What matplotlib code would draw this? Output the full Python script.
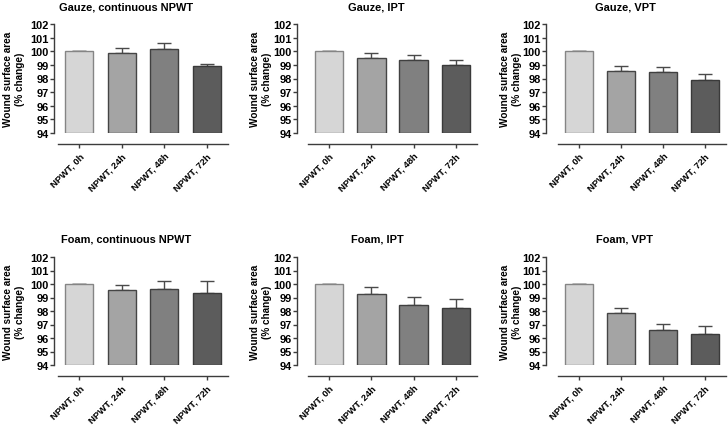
import matplotlib.pyplot as plt

plt.rcParams['font.family'] = ['Liberation Sans', 'DejaVu Sans']
plt.rcParams['font.weight'] = 'bold'

categories = ['NPWT, 0h', 'NPWT, 24h', 'NPWT, 48h', 'NPWT, 72h']
titles = ['Gauze, continuous NPWT', 'Gauze, IPT', 'Gauze, VPT',
          'Foam, continuous NPWT', 'Foam, IPT', 'Foam, VPT']

gauze_cont = [100, 99.88, 100.18, 98.92]
gauze_cont_err = [0, 0.37, 0.40, 0.13]
gauze_ipt = [100, 99.52, 99.39, 99.02]
gauze_ipt_err = [0, 0.32, 0.32, 0.35]
gauze_vpt = [100, 98.56, 98.48, 97.89]
gauze_vpt_err = [0, 0.37, 0.37, 0.42]
foam_cont = [100, 99.56, 99.61, 99.34]
foam_cont_err = [0, 0.37, 0.64, 0.88]
foam_ipt = [100, 99.24, 98.44, 98.22]
foam_ipt_err = [0, 0.52, 0.63, 0.66]
foam_vpt = [100, 97.88, 96.57, 96.33]
foam_vpt_err = [0, 0.35, 0.49, 0.59]

values = [gauze_cont, gauze_ipt, gauze_vpt, foam_cont, foam_ipt, foam_vpt]
errors = [gauze_cont_err, gauze_ipt_err, gauze_vpt_err,
          foam_cont_err, foam_ipt_err, foam_vpt_err]

bar_colors = ['#d6d6d6', '#a4a4a4', '#808080', '#5c5c5c']
edge_colors = ['#858585', '#454545', '#404040', '#3a3a3a']

W, H = 728, 427
fig = plt.figure(figsize=(W / 100, H / 100), dpi=100)

# panel layout in pixels: x-left, x-right, y-top(102), y-bottom(94), y-axis x, title x, ylabel x
layout = [
    (58, 228, 25, 134, 54, 126, 14),
    (308, 477, 25, 134, 297, 376, 261),
    (558, 726, 25, 134, 546, 625, 511),
    (58, 228, 258, 366, 54, 126, 14),
    (308, 477, 258, 366, 297, 377, 261),
    (558, 726, 258, 366, 546, 625, 511),
]

axis_col = '#3c3c3c'
for i, (x0, x1, yt, yb, ysp, tx, lx) in enumerate(layout):
    ax = fig.add_axes([x0 / W, 1 - yb / H, (x1 - x0) / W, (yb - yt) / H])
    ax.set_facecolor('none')
    ax.bar(range(4), [v - 94 for v in values[i]], bottom=94, width=0.67,
           color=bar_colors, edgecolor=edge_colors, linewidth=1.0, zorder=2)
    ax.errorbar(range(4), values[i], yerr=[[0] * 4, errors[i]], fmt='none',
                ecolor='#4a4a4a', elinewidth=1.0, capsize=5, capthick=1.0, zorder=1)
    ax.set_xlim(-0.5, 3.5)
    ax.set_ylim(94, 102)
    ax.set_yticks(range(94, 103))
    ax.set_xticks(range(4))
    ax.set_xticklabels(categories)
    for s in ['top', 'right']:
        ax.spines[s].set_visible(False)
    ax.spines['left'].set_position(('outward', (x0 - ysp) * 0.72))
    ax.spines['bottom'].set_position(('outward', 11 * 0.72))
    for s in ['left', 'bottom']:
        ax.spines[s].set_color(axis_col)
        ax.spines[s].set_linewidth(1.0)
    ax.tick_params(axis='both', colors=axis_col, length=3, width=1.0, pad=1.5,
                   labelcolor='black')
    ax.tick_params(axis='y', labelsize=7.9, pad=1)
    ax.tick_params(axis='x', labelsize=6.8, pad=2)
    plt.setp(ax.get_xticklabels(), rotation=45, ha='right', rotation_mode='anchor',
             fontweight='bold')
    plt.setp(ax.get_yticklabels(), fontweight='bold')
    fig.text(tx / W, 1 - (8 if i < 3 else 240) / H, titles[i], ha='center', va='center',
             fontsize=7.9, fontweight='bold')
    fig.text(lx / W, 1 - ((yt + yb) / 2) / H, 'Wound surface area\n(% change)',
             rotation=90, ha='center', va='center', fontsize=7.2, fontweight='bold',
             linespacing=1.15)

fig.savefig('out.png', dpi=100)
